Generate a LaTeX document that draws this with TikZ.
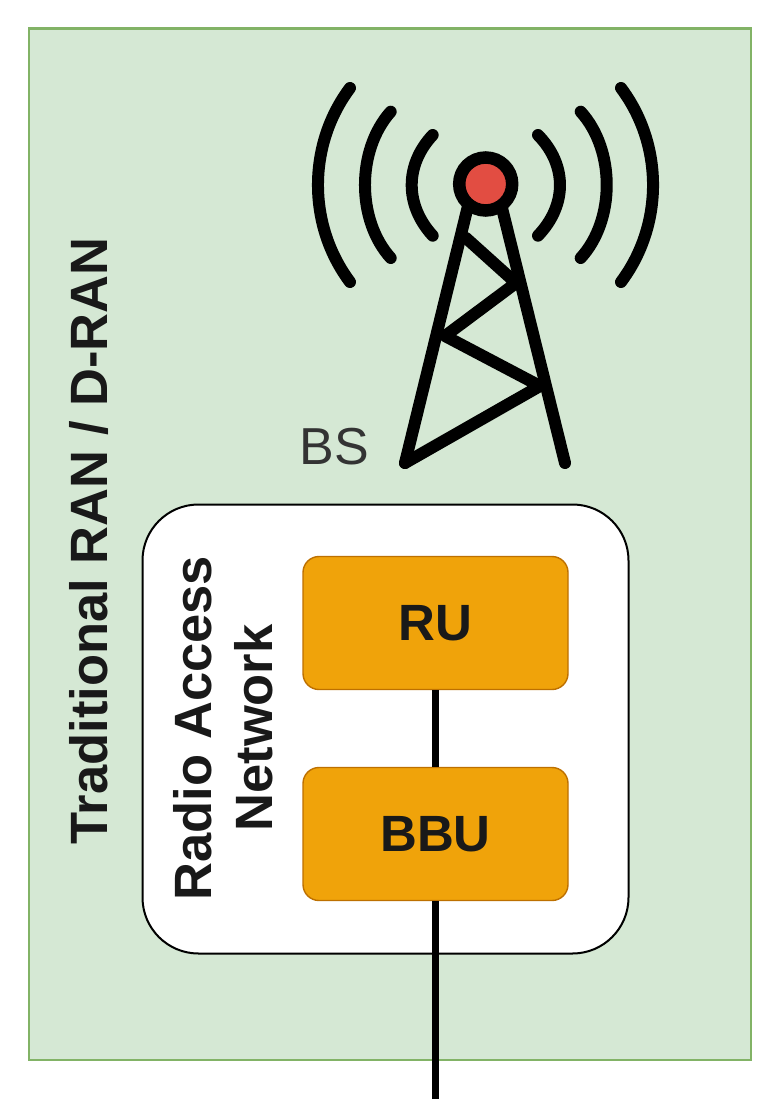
\documentclass[tikz,border=0pt]{standalone}
\usepackage{fontspec}
\setmainfont{Liberation Sans}
\definecolor{bbcol}{HTML}{F0A30A}
\definecolor{bbline}{HTML}{BD7000}
\definecolor{grn}{HTML}{D5E8D4}
\definecolor{grnb}{HTML}{82B366}
\definecolor{redtop}{HTML}{E24D42}
\begin{document}
\begin{tikzpicture}[x=1pt,y=-1pt,
 twr/.style={draw=black,line width=12pt,line cap=round,line join=round},
 wire/.style={draw=black,line width=7pt},
 unit/.style={draw=bbline,fill=bbcol,rounded corners=16pt,minimum width=265pt,minimum height=133pt,line width=1.4pt,font=\bfseries\fontsize{51}{55}\selectfont,text=black!90}]
\useasboundingbox (0,0) rectangle (783,1099);
\fill[white] (0,0) rectangle (783,1099);
\node[draw=grnb,fill=grn,line width=2.2pt,minimum width=722pt,minimum height=1031pt,inner sep=0,anchor=north west] (bg) at (27.5,27.5) {};
\node[draw=black,fill=white,line width=2pt,rounded corners=56pt,minimum width=486pt,minimum height=449pt,inner sep=0,anchor=north west] (ran) at (141.5,503.5) {};
\node[unit] (ru) at (435.5,623) {\raisebox{-2pt}{RU}};
\node[unit] (bbu) at (435.5,834) {\raisebox{-2pt}{BBU}};
\coordinate (end) at (435.5,1099);
\draw[wire] (ru.south) -- (bbu.north);
\draw[wire] (bbu.south) -- (end);
\node[rotate=90,align=center,font=\bfseries\fontsize{52.5}{61}\selectfont,text=black!90] (lab) at (223,728) {Radio Access\\Network};
\node[rotate=90,font=\bfseries\fontsize{52.5}{60}\selectfont,text=black!90] (trad) at (89,541) {Traditional RAN / D-RAN};
\node[font=\fontsize{52}{56}\selectfont,text=black!80] (bs) at (334,447) {BS};
% tower
\draw[twr] (467.5,208) -- (405,463);
\draw[twr] (502,208) -- (565,463);
\draw[twr] (405,463) -- (540,386) -- (445,336) -- (516,283) -- (466,238);
\node[circle,draw=black,fill=redtop,line width=12.5pt,minimum size=53pt,inner sep=0] (top) at (485.7,184) {};
% waves
\draw[twr] (432.7,135) .. controls (404.7,165) and (404.7,205) .. (432.7,235.7);
\draw[twr] (390.7,111.7) .. controls (356.4,150) and (356.4,220) .. (390.7,258);
\draw[twr] (350,88) .. controls (307.3,145) and (307.3,225) .. (350,282);
\draw[twr] (538,135) .. controls (567.3,165) and (567.3,205) .. (538,235.7);
\draw[twr] (580.7,111.7) .. controls (615.4,150) and (615.4,220) .. (580.7,258);
\draw[twr] (621,88) .. controls (663.7,145) and (663.7,225) .. (621,282);
\end{tikzpicture}
\end{document}
